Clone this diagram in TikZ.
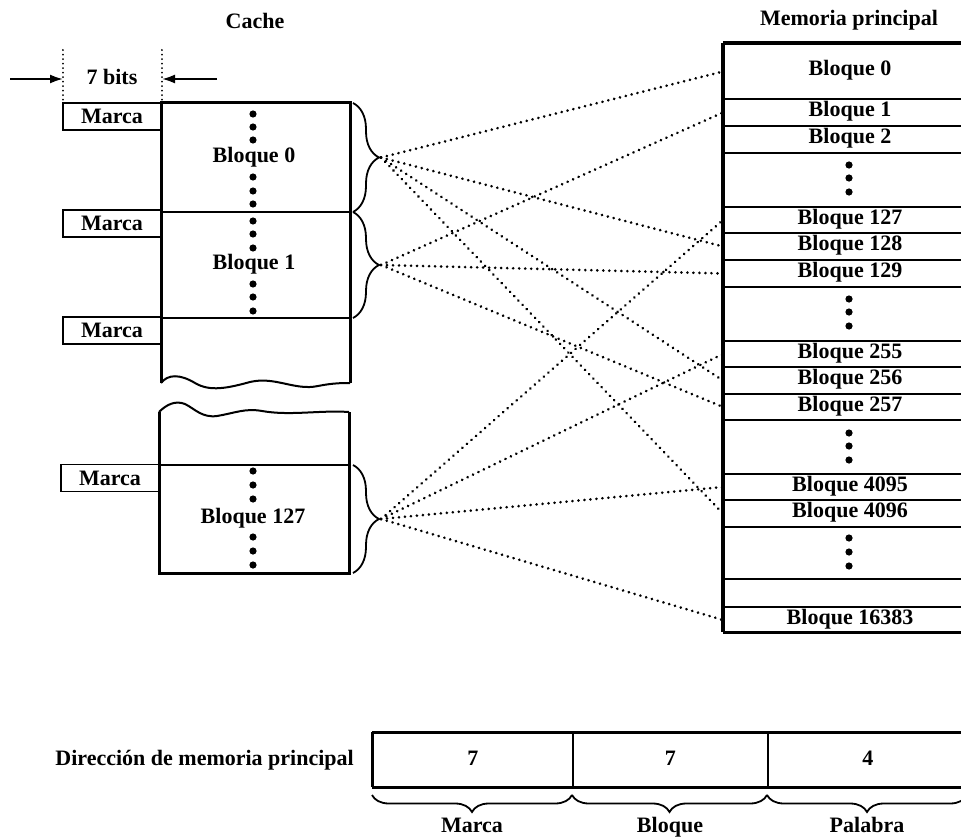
\documentclass[tikz,border=0pt]{standalone}
\usepackage{fontspec}
\setmainfont{Liberation Serif}
\usetikzlibrary{decorations.pathreplacing,arrows.meta}
\begin{document}
\begin{tikzpicture}[x=1pt,y=-1pt,
  basefont/.style={font=\fontsize{22}{26}\selectfont\bfseries, text height=15pt, text depth=5pt},
  txt/.style={basefont, inner sep=0pt},
  memrow/.style={draw, line width=2pt, minimum width=252pt, anchor=north west, inner sep=0pt, font=\fontsize{22}{26}\selectfont\bfseries, text height=14pt, text depth=6pt},
  marcabox/.style={draw, line width=1.8pt, minimum width=98pt, minimum height=27pt, inner sep=0pt, font=\fontsize{22}{26}\selectfont\bfseries, text height=15pt, text depth=1pt},
  addrbox/.style={draw, line width=1.5pt, minimum height=55pt, anchor=north west, inner sep=0pt, basefont},
  conn/.style={line width=2.9pt, dash pattern=on 0.01pt off 6pt, line cap=round},
  vdots/.style={line width=2pt, dash pattern=on 0.01pt off 4.5pt, line cap=round},
  bracecurl/.style={decorate, decoration={brace, amplitude=26pt}, line width=1.8pt},
  bracelow/.style={decorate, decoration={brace, mirror, amplitude=17pt}, line width=1.8pt},
  thick outer/.style={line width=3pt},
  divider/.style={line width=2pt},
  arr/.style={line width=2pt, -{Latex[length=13pt,width=9pt]}},
  dotfill/.style={fill=black}
]
\useasboundingbox (0,0) rectangle (961,840);
\clip (0,0) rectangle (961,840);

% ---------- titles ----------
\node[txt] (tcache) at (255,24) {Cache};
\node[txt] (tmem) at (849,21) {Memoria principal};

% ---------- 7 bits ----------
\coordinate (v1a) at (63,50);  \coordinate (v1b) at (63,103);
\coordinate (v2a) at (162,50); \coordinate (v2b) at (162,103);
\draw[vdots] (v1a) -- (v1b);
\draw[vdots] (v2a) -- (v2b);
\node[txt] (bits) at (112,80) {7 bits};
\coordinate (al) at (10,79);  \coordinate (alt) at (63,79);
\coordinate (ar) at (217,79); \coordinate (art) at (162,79);
\draw[arr] (al) -- (alt);
\draw[arr] (ar) -- (art);

% ---------- cache upper part ----------
\draw[divider] (161,212) -- (350,212);
\draw[divider] (161,318) -- (350,318);
\draw[thick outer] (161,383) -- (161,103) -- (350,103) -- (350,383);
\draw[line width=2pt] (161,383) .. controls (168,374) and (180,374) .. (195,383)
  .. controls (210,392) and (228,388) .. (250,382)
  .. controls (275,376) and (295,391) .. (318,386)
  .. controls (333,383) and (343,383) .. (350,383);

% ---------- cache lower part ----------
\draw[divider] (159,465) -- (349,465);
\draw[thick outer] (159,412) -- (159,573) -- (349,573) -- (349,412);
\draw[line width=2pt] (159,412) .. controls (166,405) and (175,400) .. (185,404)
  .. controls (195,409) and (202,418) .. (217,416)
  .. controls (235,413) and (245,408) .. (262,411)
  .. controls (290,416) and (320,410) .. (349,412);

% Marca boxes
\node[marcabox] (k0) at (112,116.5) {Marca};
\node[marcabox] (k1) at (112,223.5) {Marca};
\node[marcabox] (k2) at (112,330.5) {Marca};
\node[marcabox] (k127) at (110,478) {Marca};

% cache block labels
\node[txt] (c0) at (254,157) {Bloque 0};
\node[txt] (c1) at (254,264) {Bloque 1};
\node[txt] (c127) at (253,518) {Bloque 127};

% cache dots
\foreach \yy in {114,127,140,177,191,204,221,234,248,284,297,311,471,485,499,537,551,565}
  \fill[dotfill] (253,\yy) circle (3.6pt);

% braces
\draw[bracecurl] (353,103) -- (353,212);
\draw[bracecurl] (353,212) -- (353,318);
\draw[bracecurl] (353,465) -- (353,573);
\coordinate (b0) at (381,157.5);
\coordinate (b1) at (381,265);
\coordinate (b127) at (381,519);

% ---------- main memory ----------
\node[memrow, minimum height=55pt] (m0) at (723,43) {Bloque 0};
\node[memrow, minimum height=27pt] (m1) at (723,98) {Bloque 1};
\node[memrow, minimum height=27pt] (m2) at (723,125) {Bloque 2};
\node[memrow, minimum height=54pt] (d1) at (723,152) {};
\node[memrow, minimum height=26pt] (m127) at (723,206) {Bloque 127};
\node[memrow, minimum height=27pt] (m128) at (723,232) {Bloque 128};
\node[memrow, minimum height=27pt] (m129) at (723,259) {Bloque 129};
\node[memrow, minimum height=54pt] (d2) at (723,286) {};
\node[memrow, minimum height=26pt] (m255) at (723,340) {Bloque 255};
\node[memrow, minimum height=27pt] (m256) at (723,366) {Bloque 256};
\node[memrow, minimum height=26pt] (m257) at (723,393) {Bloque 257};
\node[memrow, minimum height=54pt] (d3) at (723,419) {};
\node[memrow, minimum height=26pt] (m4095) at (723,473) {Bloque 4095};
\node[memrow, minimum height=27pt] (m4096) at (723,499) {Bloque 4096};
\node[memrow, minimum height=52pt] (d4) at (723,526) {};
\node[memrow, minimum height=28pt] (me) at (723,578) {};
\node[memrow, minimum height=26pt] (m16383) at (723,606) {Bloque 16383};
\draw[line width=3.6pt] (723,43) -- (723,632);
\draw[thick outer] (723,43) -- (975,43);
\draw[thick outer] (723,632) -- (975,632);

% memory dots
\foreach \yy in {165,178,192,299,312,326,433,446,460,538,552,566}
  \fill[dotfill] (849,\yy) circle (3.6pt);

% ---------- connectors ----------
\draw[conn] (b0) -- (m0.west);
\draw[conn] (b0) -- (m128.west);
\draw[conn] (b0) -- (m256.west);
\draw[conn] (b0) -- (m4096.west);
\draw[conn] (b1) -- (m1.west);
\draw[conn] (b1) -- (m129.west);
\draw[conn] (b1) -- (m257.west);
\draw[conn] (b127) -- (m127.west);
\draw[conn] (b127) -- (m255.west);
\draw[conn] (b127) -- (m4095.west);
\draw[conn] (b127) -- (m16383.west);

% ---------- address format ----------
\node[txt, anchor=east] (dir) at (354,760) {Dirección de memoria principal};
\node[addrbox, minimum width=200pt] (f1) at (372,732) {7};
\node[addrbox, minimum width=195pt] (f2) at (572,732) {7};
\node[addrbox, minimum width=200pt] (f3) at (767,732) {4};
\draw[line width=2.6pt] (372,732) -- (975,732);
\draw[line width=2.6pt] (372,787) -- (975,787);
\draw[line width=2.6pt] (372,732) -- (372,787);
\draw[bracelow] (372,795) -- (572,795);
\draw[bracelow] (572,795) -- (767,795);
\draw[bracelow] (767,795) -- (967,795);
\node[txt] (lm) at (472,827) {Marca};
\node[txt] (lb) at (670,827) {Bloque};
\node[txt] (lp) at (867,827) {Palabra};
\end{tikzpicture}
\end{document}
